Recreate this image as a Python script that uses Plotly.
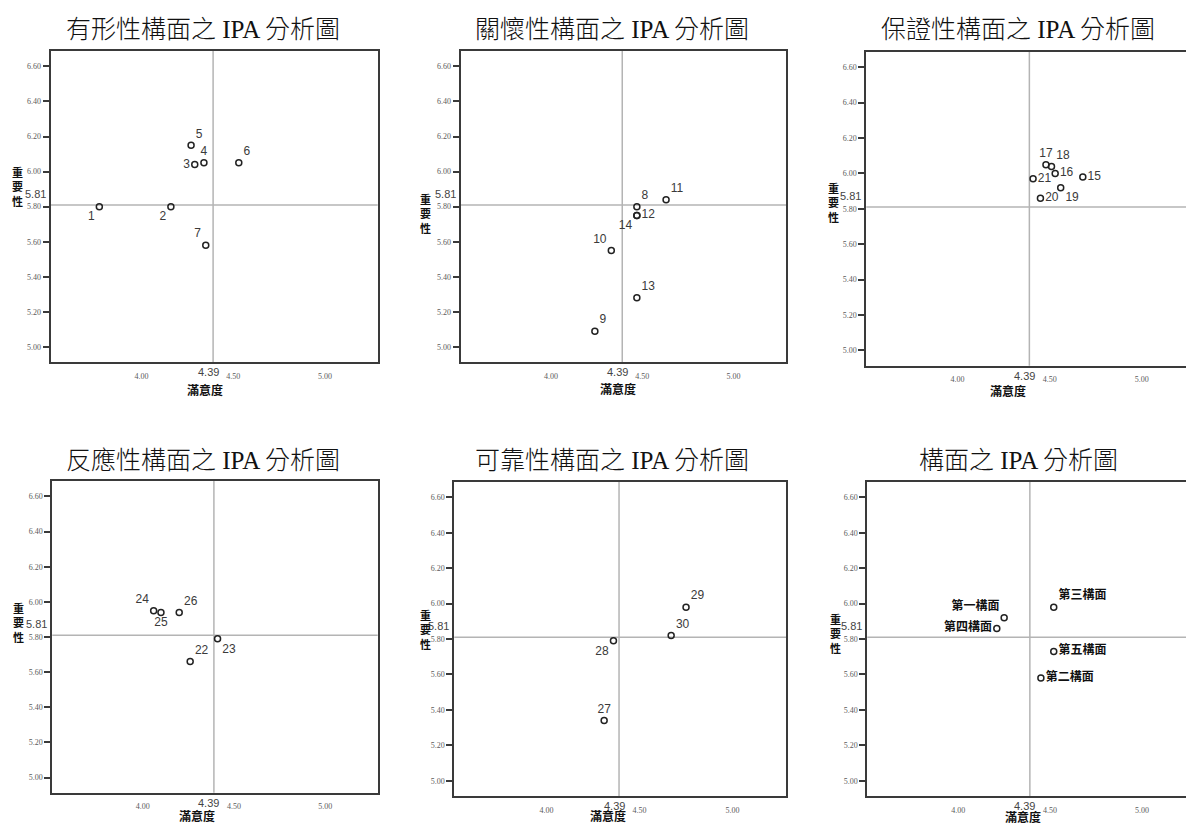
import plotly.graph_objects as go

# ---- data -------------------------------------------------------------
SAT_MEAN = 4.39   # 滿意度平均
IMP_MEAN = 5.81   # 重要性平均

# 有形性構面
tangible_items = ["1", "2", "3", "4", "5", "6", "7"]
tangible_sat = [3.77, 4.16, 4.29, 4.34, 4.27, 4.53, 4.35]
tangible_imp = [5.80, 5.80, 6.04, 6.05, 6.15, 6.05, 5.58]

# 關懷性構面
empathy_items = ["8", "9", "10", "11", "12", "13", "14"]
empathy_sat = [4.47, 4.24, 4.33, 4.63, 4.47, 4.47, 4.47]
empathy_imp = [5.80, 5.09, 5.55, 5.84, 5.75, 5.28, 5.75]

# 保證性構面
assurance_items = ["15", "16", "17", "18", "19", "20", "21"]
assurance_sat = [4.68, 4.53, 4.48, 4.51, 4.56, 4.45, 4.41]
assurance_imp = [5.98, 6.00, 6.05, 6.04, 5.92, 5.86, 5.97]

# 反應性構面
response_items = ["22", "23", "24", "25", "26"]
response_sat = [4.26, 4.41, 4.06, 4.10, 4.20]
response_imp = [5.66, 5.79, 5.95, 5.94, 5.94]

# 可靠性構面
reliability_items = ["27", "28", "29", "30"]
reliability_sat = [4.31, 4.36, 4.75, 4.67]
reliability_imp = [5.34, 5.79, 5.98, 5.82]

# 各構面平均
dimension_items = ["第一構面", "第二構面", "第三構面", "第四構面", "第五構面"]
dimension_sat = [4.25, 4.45, 4.52, 4.21, 4.52]
dimension_imp = [5.92, 5.58, 5.98, 5.86, 5.73]

x_ticks = [4.00, 4.50, 5.00]
y_ticks = [5.00, 5.20, 5.40, 5.60, 5.80, 6.00, 6.20, 6.40, 6.60]

# ---- label placement (style only) -------------------------------------
tangible_pos = ["bottom left", "bottom left", "middle left", "top center",
                "top right", "top right", "top left"]
empathy_pos = ["top right", "top right", "top left", "top right",
               "middle right", "top right", "bottom left"]
assurance_pos = ["middle right", "middle right", "top center", "top right",
                 "bottom right", "middle right", "middle right"]
response_pos = ["top right", "bottom right", "top left", "bottom center", "top right"]
reliability_pos = ["top center", "bottom left", "top right", "top right"]
dimension_pos = ["top left", "middle right", "top right", "middle left", "middle right"]

W, H = 1186, 823

panels = [
    dict(title="有形性構面之 IPA 分析圖", items=tangible_items, sat=tangible_sat,
         imp=tangible_imp, pos=tangible_pos,
         box=(50.7, 377.7, 51, 362), tc=(202.5, 29), xl=(205, 389), yl=(17, 186)),
    dict(title="關懷性構面之 IPA 分析圖", items=empathy_items, sat=empathy_sat,
         imp=empathy_imp, pos=empathy_pos,
         box=(460.7, 786, 51, 362), tc=(612, 29), xl=(618, 388), yl=(425, 213)),
    dict(title="保證性構面之 IPA 分析圖", items=assurance_items, sat=assurance_sat,
         imp=assurance_imp, pos=assurance_pos,
         box=(866.3, 1186, 51.7, 365.7), tc=(1018, 29), xl=(1008, 390), yl=(833, 203)),
    dict(title="反應性構面之 IPA 分析圖", items=response_items, sat=response_sat,
         imp=response_imp, pos=response_pos,
         box=(52.3, 377.7, 481, 792.7), tc=(202.5, 461), xl=(197, 815), yl=(18, 622)),
    dict(title="可靠性構面之 IPA 分析圖", items=reliability_items, sat=reliability_sat,
         imp=reliability_imp, pos=reliability_pos,
         box=(454.3, 786, 481.7, 796), tc=(612, 461), xl=(608, 815), yl=(425, 629)),
    dict(title="構面之 IPA 分析圖", items=dimension_items, sat=dimension_sat,
         imp=dimension_imp, pos=dimension_pos, bold=True,
         box=(867.3, 1186, 481.7, 796), tc=(1018, 461), xl=(1023, 816), yl=(835, 633)),
]

SERIF = "Liberation Serif, Noto Sans CJK TC, serif"
CJK = "Noto Sans CJK TC, sans-serif"
LABEL = "Liberation Sans, Noto Sans CJK TC, sans-serif"
FRAME = "#3a3a3a"
REF = "#b4b4b4"

fig = go.Figure()
annotations = []
shapes = []
layout = {}

for i, p in enumerate(panels, start=1):
    sfx = "" if i == 1 else str(i)
    xa, ya = "x" + sfx, "y" + sfx
    left, right, top, bottom = p["box"]
    cut_right = right >= W  # third column runs off the right edge

    bold = p.get("bold", False)
    fig.add_trace(go.Scatter(
        x=p["sat"], y=p["imp"], text=p["items"], mode="markers+text",
        textposition=p["pos"],
        textfont=dict(family=CJK if bold else LABEL, size=12,
                      color="#111" if bold else "#3a3a3a",
                      weight="bold" if bold else "normal"),
        marker=dict(symbol="circle-open", size=6, color="#222",
                    line=dict(width=1.5, color="#222")),
        xaxis=xa, yaxis=ya, showlegend=False, cliponaxis=False,
    ))

    xr_end = 5.24 if cut_right else 5.287
    layout["xaxis" + sfx] = dict(
        domain=[left / W, min(right / W, 1.0)], anchor=ya,
        range=[3.505, xr_end], tickvals=x_ticks, tickformat=".2f",
        ticks="", ticklabelstandoff=5,
        tickfont=dict(family=SERIF, size=8, color="#5a5a5a"),
        showline=True, mirror=True, linecolor=FRAME, linewidth=2,
        showgrid=False, zeroline=False, fixedrange=True,
    )
    layout["yaxis" + sfx] = dict(
        domain=[1 - bottom / H, 1 - top / H], anchor=xa,
        range=[4.914, 6.688], tickvals=y_ticks, tickformat=".2f",
        ticks="outside", ticklen=6, tickwidth=1.5, tickcolor=FRAME,
        tickfont=dict(family=SERIF, size=8, color="#5a5a5a"),
        showline=True, mirror=not cut_right, linecolor=FRAME, linewidth=2,
        showgrid=False, zeroline=False, fixedrange=True,
    )

    # mean reference lines
    shapes.append(dict(type="line", xref=xa, yref=ya + " domain",
                       x0=SAT_MEAN, x1=SAT_MEAN, y0=0, y1=1,
                       line=dict(color=REF, width=1.5), layer="below"))
    shapes.append(dict(type="line", xref=xa + " domain", yref=ya,
                       x0=0, x1=1, y0=IMP_MEAN, y1=IMP_MEAN,
                       line=dict(color=REF, width=1.5), layer="below"))

    # mean value labels
    annotations.append(dict(text=f"{IMP_MEAN:.2f}", xref=xa + " domain", yref=ya,
                            x=0, y=IMP_MEAN, xanchor="right", yanchor="middle",
                            xshift=-3, yshift=11, showarrow=False,
                            font=dict(family=LABEL, size=11, color="#444")))
    annotations.append(dict(text=f"{SAT_MEAN:.2f}", xref=xa, yref=ya + " domain",
                            x=SAT_MEAN, y=0, xanchor="center", yanchor="middle",
                            xshift=-5, yshift=-10, showarrow=False,
                            font=dict(family=LABEL, size=11, color="#444")))

    # panel title
    tx, ty = p["tc"]
    annotations.append(dict(text=p["title"], xref="paper", yref="paper",
                            x=tx / W, y=1 - ty / H, xanchor="center", yanchor="middle",
                            showarrow=False,
                            font=dict(family=SERIF, size=25, color="#111", weight=300)))
    # axis titles
    lx, ly = p["xl"]
    annotations.append(dict(text="<b>滿意度</b>", xref="paper", yref="paper",
                            x=lx / W, y=1 - ly / H, xanchor="center", yanchor="middle",
                            showarrow=False,
                            font=dict(family=CJK, size=12, color="#111")))
    vx, vy = p["yl"]
    annotations.append(dict(text="<b>重<br>要<br>性</b>", xref="paper", yref="paper",
                            x=vx / W, y=1 - vy / H, xanchor="center", yanchor="middle",
                            showarrow=False,
                            font=dict(family=CJK, size=11, color="#111")))

fig.update_layout(
    width=W, height=H,
    margin=dict(l=0, r=0, t=0, b=0),
    paper_bgcolor="white", plot_bgcolor="white",
    annotations=annotations, shapes=shapes,
    **layout,
)

fig.write_html("out.html", config={"displayModeBar": False})
